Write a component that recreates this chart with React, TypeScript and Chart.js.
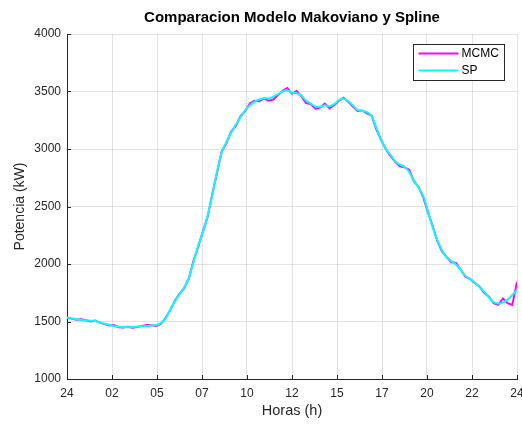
import React, { useEffect, useRef } from "react";
import { Chart, registerables } from "chart.js";

Chart.register(...registerables);

const titleText = "Comparacion Modelo Makoviano y Spline";
const xAxisTitle = "Horas (h)";
const yAxisTitle = "Potencia (kW)";
const seriesNames = ["MCMC", "SP"];
const seriesColors = ["#ff00ff", "#00ffff"];

// hours of day (15-min steps), 0..24
const hours: number[] = Array.from({ length: 97 }, (_, i) => i * 0.25);

const xTickValues = [0, 2.4, 4.8, 7.2, 9.6, 12, 14.4, 16.8, 19.2, 21.6, 24];
const xTickLabels = ["24", "02", "05", "07", "10", "12", "15", "17", "20", "22", "24"];
const yTickValues = [1000, 1500, 2000, 2500, 3000, 3500, 4000];

const spValues = [
  1535, 1529, 1520, 1514, 1510, 1507, 1504, 1493, 1481, 1471,
  1461, 1454, 1452, 1450, 1452, 1455, 1458, 1461, 1465, 1469,
  1486, 1525, 1600, 1675, 1735, 1795, 1880, 2020, 2160, 2275,
  2420, 2600, 2800, 2970, 3060, 3140, 3210, 3275, 3335, 3380,
  3410, 3430, 3442, 3440, 3455, 3478, 3500, 3510, 3490, 3485,
  3465, 3420, 3395, 3370, 3368, 3380, 3372, 3390, 3425, 3440,
  3415, 3380, 3340, 3330, 3320, 3285, 3185, 3085, 3005, 2950,
  2895, 2865, 2845, 2800, 2725, 2665, 2590, 2460, 2322, 2210,
  2120, 2058, 2025, 1995, 1950, 1897, 1868, 1840, 1800, 1760,
  1710, 1668, 1656, 1665, 1690, 1730, 1775,
];

const mcmcValues = [
  1530, 1525, 1515, 1520, 1512, 1500, 1508, 1490, 1478, 1465,
  1470, 1450, 1448, 1455, 1445, 1452, 1462, 1470, 1468, 1462,
  1478, 1530, 1595, 1680, 1740, 1790, 1875, 2030, 2150, 2285,
  2410, 2610, 2790, 2980, 3050, 3150, 3200, 3285, 3330, 3395,
  3420, 3415, 3440, 3420, 3430, 3470, 3505, 3530, 3480, 3505,
  3460, 3400, 3390, 3350, 3360, 3395, 3355, 3380, 3420, 3445,
  3410, 3370, 3330, 3335, 3310, 3290, 3170, 3080, 3000, 2940,
  2890, 2850, 2840, 2820, 2720, 2670, 2580, 2450, 2330, 2200,
  2110, 2060, 2015, 2010, 1950, 1890, 1870, 1835, 1805, 1750,
  1715, 1660, 1645, 1700, 1660, 1645, 1845,
];

const FONT = "'Liberation Sans', Arial, Helvetica, sans-serif";
const AXIS_COLOR = "#262626";
const GRID_COLOR = "rgba(38,38,38,0.13)";

const decorPlugin = {
  id: "matlabDecor",
  afterDraw(chart: any) {
    const { ctx, chartArea, scales } = chart;
    const { left, right, top, bottom } = chartArea;
    ctx.save();
    // title centred over the axes
    ctx.fillStyle = "#000000";
    ctx.font = `bold 15px ${FONT}`;
    ctx.textAlign = "center";
    ctx.textBaseline = "middle";
    ctx.fillText(titleText, (left + right) / 2, top - 16);

    // inward ticks
    ctx.strokeStyle = AXIS_COLOR;
    ctx.lineWidth = 1;
    ctx.beginPath();
    yTickValues.forEach((v) => {
      const y = Math.round(scales.y.getPixelForValue(v)) + 0.5;
      ctx.moveTo(left, y);
      ctx.lineTo(left + 4, y);
    });
    xTickValues.forEach((v) => {
      const x = Math.round(scales.x.getPixelForValue(v)) + 0.5;
      ctx.moveTo(x, bottom);
      ctx.lineTo(x, bottom - 4);
    });
    ctx.stroke();

    // legend box
    const bw = 91;
    const bh = 36;
    const bx = Math.round(right - 104) + 0.5;
    const by = Math.round(top + 10) + 0.5;
    ctx.fillStyle = "#ffffff";
    ctx.fillRect(bx, by, bw, bh);
    ctx.strokeStyle = AXIS_COLOR;
    ctx.lineWidth = 1;
    ctx.strokeRect(bx, by, bw, bh);
    ctx.font = `12px ${FONT}`;
    ctx.textBaseline = "middle";
    ctx.textAlign = "left";
    seriesNames.forEach((name, i) => {
      const ly = by + 9 + i * 17;
      ctx.strokeStyle = seriesColors[i];
      ctx.lineWidth = 2;
      ctx.beginPath();
      ctx.moveTo(bx + 5, ly);
      ctx.lineTo(bx + 45, ly);
      ctx.stroke();
      ctx.fillStyle = "#000000";
      ctx.fillText(name, bx + 48, ly + 0.5);
    });
    ctx.restore();
  },
};

export default function App() {
  const canvasRef = useRef<HTMLCanvasElement | null>(null);

  useEffect(() => {
    if (!canvasRef.current) return;
    const chart = new Chart(canvasRef.current, {
      type: "line",
      data: {
        datasets: [
          {
            label: seriesNames[0],
            data: hours.map((h, i) => ({ x: h, y: mcmcValues[i] })),
            borderColor: seriesColors[0],
            borderWidth: 2,
            pointRadius: 0,
            tension: 0,
            fill: false,
            order: 1,
          },
          {
            label: seriesNames[1],
            data: hours.map((h, i) => ({ x: h, y: spValues[i] })),
            borderColor: seriesColors[1],
            borderWidth: 2,
            pointRadius: 0,
            tension: 0.3,
            fill: false,
            order: 0,
          },
        ],
      },
      options: {
        responsive: false,
        animation: false,
        layout: { padding: { left: 0, right: 5, top: 34, bottom: 0 } },
        plugins: {
          legend: { display: false },
          tooltip: { enabled: false },
          title: { display: false },
        },
        scales: {
          x: {
            type: "linear",
            min: 0,
            max: 24,
            afterBuildTicks: (scale: any) => {
              scale.ticks = xTickValues.map((v) => ({ value: v }));
            },
            afterFit: (scale: any) => {
              scale.height = 45;
              scale.paddingLeft = 0;
              scale.paddingRight = 0;
            },
            ticks: {
              autoSkip: false,
              maxRotation: 0,
              padding: 7,
              color: AXIS_COLOR,
              font: { family: FONT, size: 12 },
              callback: (value: any) => {
                const idx = xTickValues.findIndex((v) => Math.abs(v - Number(value)) < 1e-6);
                return idx >= 0 ? xTickLabels[idx] : "";
              },
            },
            grid: { color: GRID_COLOR, drawTicks: false },
            border: { color: AXIS_COLOR, width: 1 },
            title: {
              display: true,
              text: xAxisTitle,
              color: AXIS_COLOR,
              font: { family: FONT, size: 14.5 },
              padding: { top: 0, bottom: 4 },
            },
          },
          y: {
            type: "linear",
            min: 1000,
            max: 4000,
            afterBuildTicks: (scale: any) => {
              scale.ticks = yTickValues.map((v) => ({ value: v }));
            },
            afterFit: (scale: any) => {
              scale.width = 67;
              scale.paddingTop = 0;
              scale.paddingBottom = 0;
            },
            ticks: {
              padding: 6,
              color: AXIS_COLOR,
              font: { family: FONT, size: 12 },
              callback: (value: any) => String(value),
            },
            grid: { color: GRID_COLOR, drawTicks: false },
            border: { color: AXIS_COLOR, width: 1 },
            title: {
              display: true,
              text: yAxisTitle,
              color: AXIS_COLOR,
              font: { family: FONT, size: 14 },
              padding: { top: 12, bottom: 0 },
            },
          },
        },
      },
      plugins: [decorPlugin],
    } as any);
    return () => chart.destroy();
  }, []);

  return (
    <div style={{ position: "absolute", left: 0, top: 0, width: 522, height: 424, background: "#ffffff" }}>
      <canvas ref={canvasRef} width={522} height={424} />
    </div>
  );
}
